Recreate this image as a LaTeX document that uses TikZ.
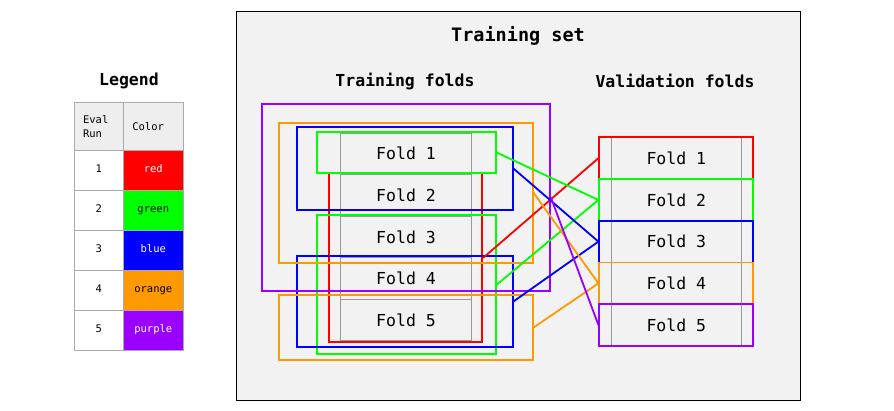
\documentclass[tikz,border=0pt]{standalone}
\usepackage{fontspec}
\setmainfont{DejaVu Sans Mono}
\usetikzlibrary{fit,positioning}
\definecolor{cred}{HTML}{FF0000}
\definecolor{cgreen}{HTML}{00FF00}
\definecolor{cblue}{HTML}{0000FF}
\definecolor{corange}{HTML}{FF9900}
\definecolor{cpurple}{HTML}{9900FF}
\definecolor{bg}{HTML}{F2F2F2}
\definecolor{rule}{HTML}{999999}
\definecolor{grid}{HTML}{AAAAAA}
\definecolor{head}{HTML}{EEEEEE}
\tikzset{%
  fold/.style={draw=rule,line width=0.8pt,minimum width=131.5pt,minimum height=41.5pt,
    inner sep=0pt,font=\fontsize{16.5}{18}\selectfont},
  valfold/.style={fold,draw=#1,line width=1.8pt,minimum width=154pt,minimum height=41.7pt,
    path picture={\draw[rule,line width=0.8pt]
      ([xshift=12.4pt]path picture bounding box.north west) -- ([xshift=12.4pt]path picture bounding box.south west)
      ([xshift=-12.4pt]path picture bounding box.north east) -- ([xshift=-12.4pt]path picture bounding box.south east);}},
  run/.style={draw=#1,line width=1.8pt,inner sep=0pt},
  link/.style={draw=#1,line width=1.8pt},
  heading/.style={font=\fontsize{16.5}{18}\selectfont\bfseries},
  numcell/.style={draw=grid,fill=white,line width=0.8pt,minimum width=49.3pt,minimum height=40pt,
    inner sep=0pt,font=\fontsize{10.5}{13.3}\selectfont},
  colcell/.style={numcell,fill=#1,minimum width=60pt},
  cellbox/.style={text height=7.6pt,text depth=2.2pt}
}

\begin{document}
\begin{tikzpicture}[x=1pt,y=-1pt]
  \useasboundingbox (0,0) rectangle (894,410);
  % Frame
  \node[draw=black,fill=bg,line width=0.9pt,minimum width=564pt,minimum height=389pt,
    inner sep=0pt,anchor=north west] (frame) at (236,11) {};
  \node[heading,font=\fontsize{18.5}{20}\selectfont\bfseries] (tset) at (518,36) {Training set};
  \node[heading] (tfolds) at (405,81) {Training folds};
  \node[heading] (vfolds) at (675,81) {Validation folds};
  % Training folds
  \foreach \i in {1,...,5}
    \node[fold] (t\i) at (406,{112.3+41.5*\i}) {Fold \i};
  % Eval runs
  \node[run=cred,fit={(329.3,173.3) (482.3,342.3)}] (r1) {};
  \node[run=cgreen,fit={(317.3,131.7) (495.7,173.3)}] (g1) {};
  \node[run=cgreen,fit={(317.3,215.3) (495.7,354.3)}] (g2) {};
  \node[run=cblue,fit={(297,127.3) (512.7,210)}] (b1) {};
  \node[run=cblue,fit={(297,256) (512.7,346.7)}] (b2) {};
  \node[run=corange,fit={(279.3,123) (532.7,262.7)}] (o1) {};
  \node[run=corange,fit={(279.3,295) (532.7,360)}] (o2) {};
  \node[run=cpurple,fit={(262.3,104.3) (550,290.7)}] (p1) {};
  % Validation folds
  \foreach \i/\c in {1/cred,2/cgreen,3/cblue,4/corange,5/cpurple}
    \node[valfold=\c] (v\i) at (676.3,{116.5+41.7*\i}) {Fold \i};
  \draw[link=cred] (r1.east) -- (v1.west);
  \draw[link=cgreen] (g1.east) -- (v2.west) (g2.east) -- (v2.west);
  \draw[link=cblue] (b1.east) -- (v3.west) (b2.east) -- (v3.west);
  \draw[link=corange] (o1.east) -- (v4.west) (o2.east) -- (v4.west);
  \draw[link=cpurple] (p1.east) -- (v5.west);
  % Legend
  \node[heading] (legend) at (129,81) {Legend};
  \node[numcell,fill=head,minimum height=47.7pt,text width=31.3pt,inner xsep=9pt,align=left]
    (h1) at (98.7,126.6) {Eval\\Run};
  \node[colcell=head,minimum height=47.7pt,text width=42pt,inner xsep=9pt,align=left]
    (h2) at (153.3,126.6) {Color};
  \foreach \i/\c/\t/\txt in {1/cred/white/red,2/cgreen/black/green,3/cblue/white/blue,
    4/corange/black/orange,5/cpurple/white/purple}{
    \node[numcell,cellbox] (n\i) at (98.7,{130+40*\i}) {\i};
    \node[colcell=\c,cellbox,text=\t] (c\i) at (153.3,{130+40*\i}) {\txt};
  }
\end{tikzpicture}
\end{document}
